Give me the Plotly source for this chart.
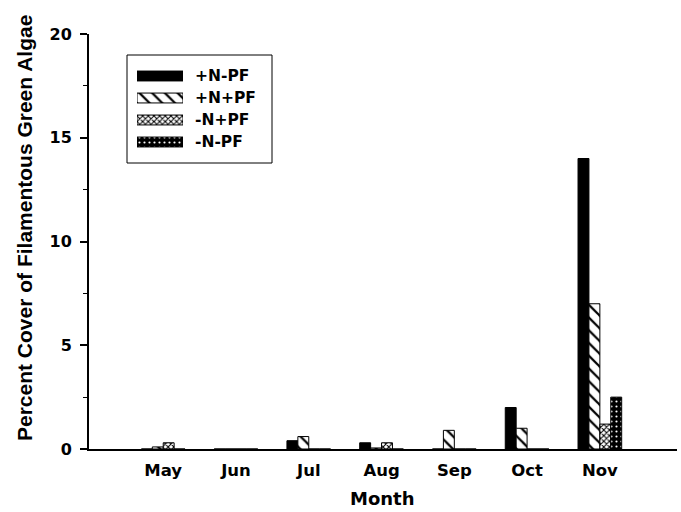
import plotly.graph_objects as go

# ---- data ----
months = ["May", "Jun", "Jul", "Aug", "Sep", "Oct", "Nov"]
series_names = ["+N-PF", "+N+PF", "-N+PF", "-N-PF"]
plusN_minusPF = [0.0, 0.0, 0.4, 0.3, 0.0, 2.0, 14.0]
plusN_plusPF = [0.1, 0.0, 0.6, 0.05, 0.9, 1.0, 7.0]
minusN_plusPF = [0.3, 0.0, 0.0, 0.3, 0.0, 0.0, 1.2]
minusN_minusPF = [0.0, 0.0, 0.0, 0.0, 0.0, 0.0, 2.5]
y_ticks = [0, 5, 10, 15, 20]

series_values = [plusN_minusPF, plusN_plusPF, minusN_plusPF, minusN_minusPF]

# ---- styles ----
styles = [
    dict(shape="", fg="black", bg="black", size=8, solidity=0.3),
    dict(shape="\\", fg="black", bg="white", size=9, solidity=0.25),
    dict(shape="x", fg="black", bg="white", size=4, solidity=0.45),
    dict(shape=".", fg="white", bg="black", size=5, solidity=0.15),
]

W, H = 681, 512
L, R, T, B = 89, 677, 34, 449


def px_x(p):
    return (p - L) / (R - L)


def px_y(p):
    return (B - p) / (B - T)


def marker_for(st):
    return dict(
        color=st["bg"],
        line=dict(color="black", width=1),
        pattern=dict(shape=st["shape"], fgcolor=st["fg"], bgcolor=st["bg"],
                     size=st["size"], solidity=st["solidity"], fillmode="replace"),
    )


fig = go.Figure()

for name, vals, st in zip(series_names, series_values, styles):
    fig.add_trace(go.Bar(x=months, y=vals, name=name, showlegend=False,
                         marker=marker_for(st)))

# custom legend swatches on a hidden subplot (one shared slot per row)
for name, st in zip(series_names, styles):
    fig.add_trace(go.Bar(
        x=[1], y=[name], orientation="h", width=0.45, offsetgroup="leg",
        xaxis="x2", yaxis="y2", showlegend=False, hoverinfo="skip",
        marker=marker_for(st),
    ))

tick_font = dict(family="DejaVu Sans", size=16.5, color="black", weight="bold")
ytick_font = dict(family="DejaVu Sans", size=16, color="black", weight="bold")

row_h = 22
leg_top = 65
annotations = []
for i, name in enumerate(series_names):
    annotations.append(dict(
        x=px_x(193), y=px_y(leg_top + row_h / 2 + i * row_h), xref="paper", yref="paper",
        text=name, showarrow=False, xanchor="left", yanchor="middle",
        font=dict(family="DejaVu Sans", size=15.5, color="black", weight="bold"),
    ))

annotations.append(dict(
    x=px_x(24), y=px_y(228), xref="paper", yref="paper",
    text="Percent Cover of Filamentous Green Algae", textangle=-90, showarrow=False,
    xanchor="center", yanchor="middle",
    font=dict(family="Liberation Sans", size=21, color="black", weight="bold"),
))
annotations.append(dict(
    x=px_x(382), y=px_y(498), xref="paper", yref="paper",
    text="Month", showarrow=False, xanchor="center", yanchor="middle",
    font=dict(family="DejaVu Sans", size=18, color="black", weight="bold"),
))

fig.update_layout(
    width=W, height=H,
    margin=dict(l=L, r=W - R, t=T, b=H - B, pad=0),
    paper_bgcolor="white", plot_bgcolor="white",
    barmode="group", bargap=0.4, bargroupgap=0,
    xaxis=dict(
        type="category", categoryorder="array", categoryarray=months,
        range=[-1.02, 7.06], showline=True, linecolor="black", linewidth=2,
        ticks="", showgrid=False, zeroline=False, tickfont=tick_font,
        ticklabelstandoff=5,
    ),
    yaxis=dict(
        range=[0, 20], tickvals=y_ticks, ticktext=[str(v) for v in y_ticks],
        showline=True, linecolor="black", linewidth=2,
        ticks="outside", ticklen=7, tickwidth=1.5, tickcolor="black",
        minor=dict(ticks="outside", ticklen=4, dtick=2.5, tickcolor="black", tickwidth=1),
        showgrid=False, zeroline=False, tickfont=ytick_font, ticklabelstandoff=5,
    ),
    xaxis2=dict(domain=[px_x(137), px_x(183)], range=[0, 1], visible=False,
                anchor="y2", fixedrange=True),
    yaxis2=dict(domain=[px_y(leg_top + row_h * 4), px_y(leg_top)], type="category",
                categoryorder="array", categoryarray=series_names,
                range=[3.5, -0.5], visible=False, anchor="x2", fixedrange=True),
    shapes=[dict(type="rect", xref="paper", yref="paper",
                 x0=px_x(127), x1=px_x(272), y0=px_y(163), y1=px_y(55),
                 line=dict(color="black", width=1), fillcolor="rgba(0,0,0,0)",
                 layer="below")],
    annotations=annotations,
    showlegend=False,
)

fig.write_html("out.html")
